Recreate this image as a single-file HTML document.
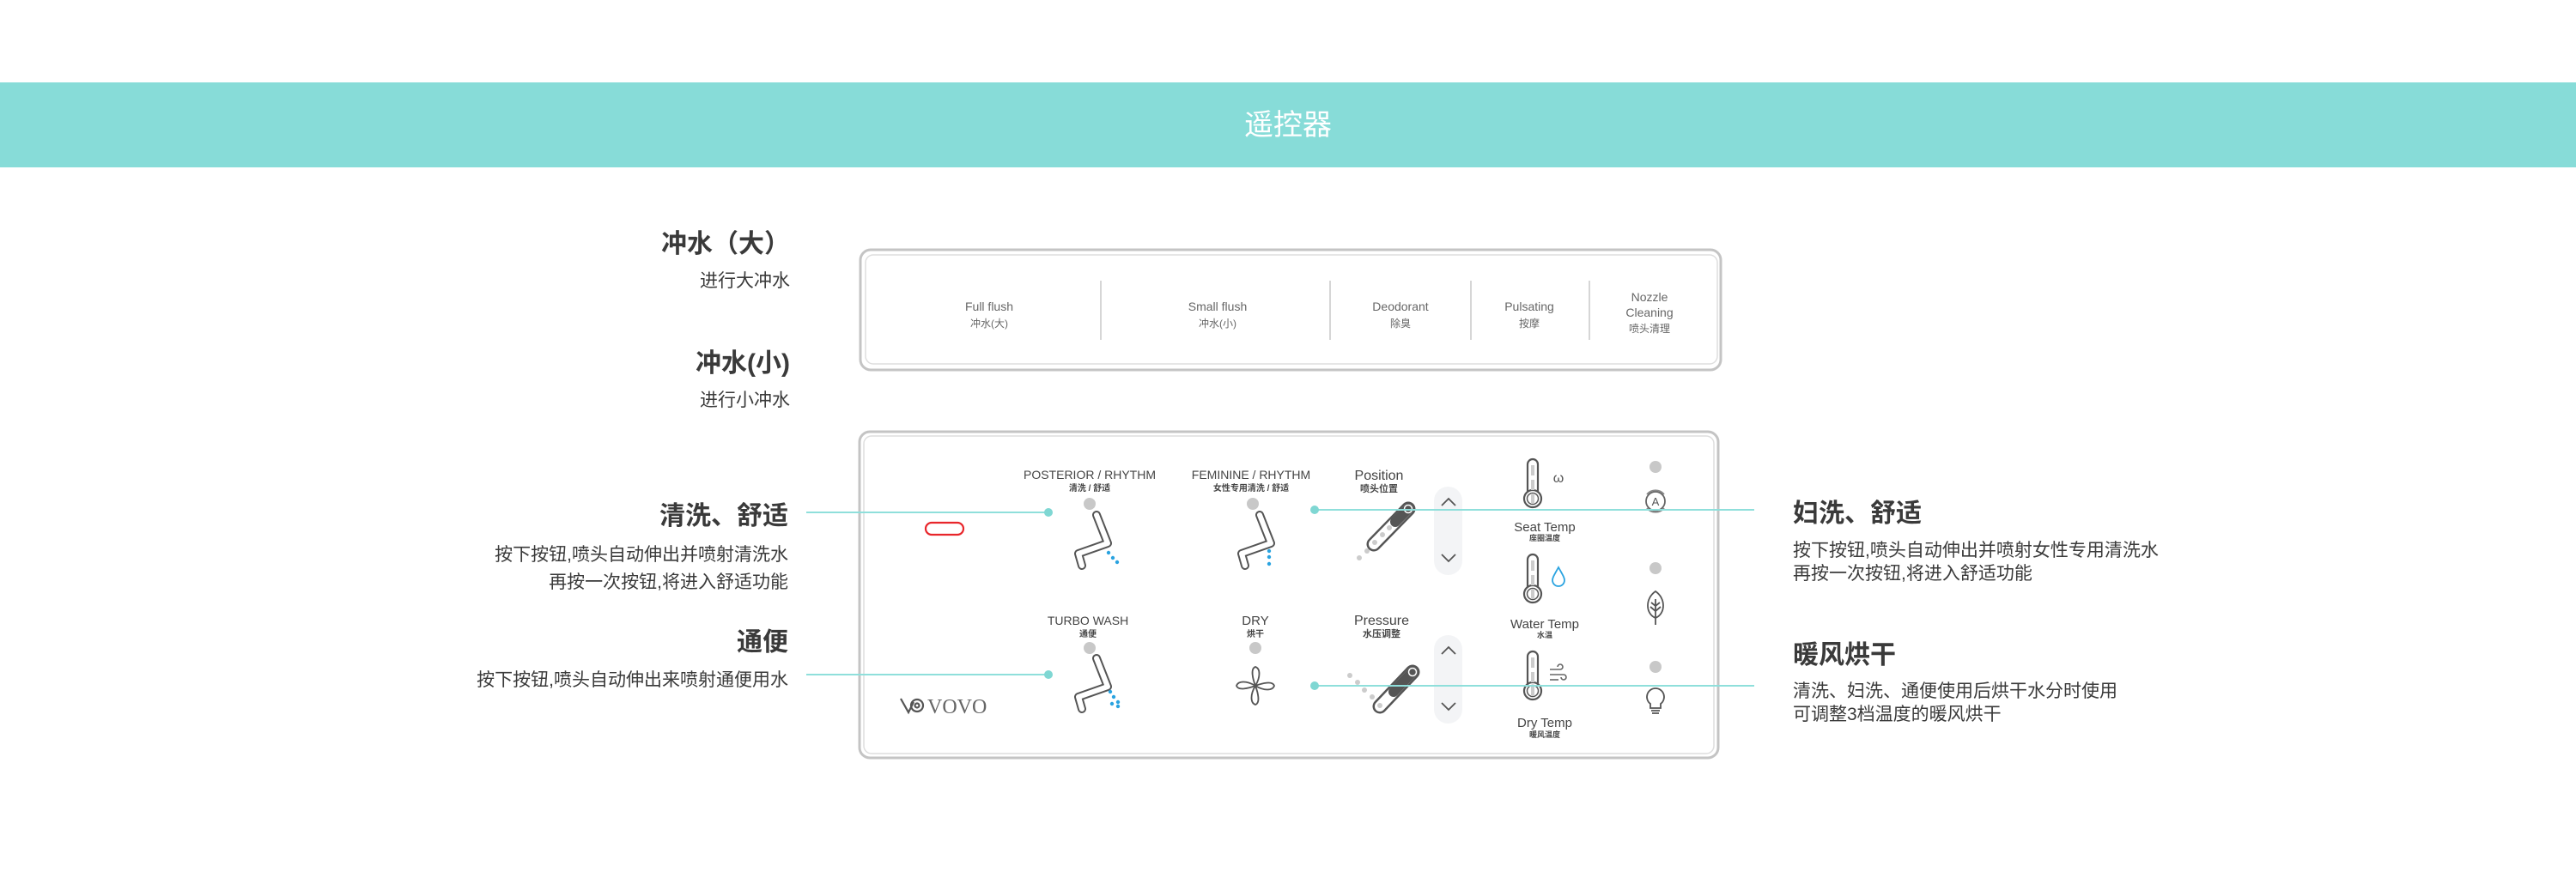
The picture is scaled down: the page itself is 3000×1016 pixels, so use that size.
<!DOCTYPE html>
<html><head><meta charset="utf-8"><style>
html,body{margin:0;padding:0;background:#fff;}
svg{display:block;}
text{font-family:"Liberation Sans","Noto Sans CJK SC",sans-serif;}
</style></head><body>
<svg width="3000" height="1016" viewBox="0 0 3000 1016" xmlns="http://www.w3.org/2000/svg">
<defs>
<g id="therm">
  <rect x="-6" y="0" width="12" height="46" rx="6" fill="#fff" stroke="#555" stroke-width="2.2"/>
  <circle cx="0" cy="46" r="10" fill="#fff" stroke="#555" stroke-width="2.2"/>
  <circle cx="0" cy="46" r="6.5" fill="none" stroke="#555" stroke-width="1.5"/>
  <rect x="-2" y="7" width="4" height="12" fill="#ccc"/>
  <rect x="-2" y="24" width="4" height="12" fill="#ccc"/>
  <rect x="-2" y="40" width="4" height="12" fill="#ccc"/>
</g>
<g id="nozzle">
  <polyline points="0,0 13,33 -21,45 -17,59" fill="none" stroke="#555" stroke-width="10" stroke-linejoin="round" stroke-linecap="round"/>
  <polyline points="0,0 13,33 -21,45 -17,59" fill="none" stroke="#fff" stroke-width="6" stroke-linejoin="round" stroke-linecap="round"/>
</g>
<g id="up"><polyline points="-8,4 0,-4 8,4" fill="none" stroke="#555" stroke-width="1.8"/></g>
<g id="down"><polyline points="-8,-4 0,4 8,-4" fill="none" stroke="#555" stroke-width="1.8"/></g>
</defs>

<rect x="0" y="96" width="3000" height="99" fill="#87dcd8"/>
<text x="1500" y="157" font-size="34" fill="#fff" text-anchor="middle">遥控器</text>

<g fill="#3a3a3a" text-anchor="end">
<text x="920" y="294" font-size="30" font-weight="bold">冲水（大）</text>
<text x="920" y="334" font-size="21">进行大冲水</text>
<text x="920" y="433" font-size="30" font-weight="bold">冲水(小)</text>
<text x="920" y="473" font-size="21">进行小冲水</text>
<text x="918" y="611" font-size="30" font-weight="bold">清洗、舒适</text>
<text x="918" y="653" font-size="21">按下按钮,喷头自动伸出并喷射清洗水</text>
<text x="918" y="685" font-size="21">再按一次按钮,将进入舒适功能</text>
<text x="918" y="758" font-size="30" font-weight="bold">通便</text>
<text x="918" y="799" font-size="21">按下按钮,喷头自动伸出来喷射通便用水</text>
</g>
<g fill="#3a3a3a">
<text x="2088" y="608" font-size="30" font-weight="bold">妇洗、舒适</text>
<text x="2088" y="648" font-size="21">按下按钮,喷头自动伸出并喷射女性专用清洗水</text>
<text x="2088" y="675" font-size="21">再按一次按钮,将进入舒适功能</text>
<text x="2088" y="773" font-size="30" font-weight="bold">暖风烘干</text>
<text x="2088" y="812" font-size="21">清洗、妇洗、通便使用后烘干水分时使用</text>
<text x="2088" y="839" font-size="21">可调整3档温度的暖风烘干</text>
</g>

<rect x="1002" y="291" width="1002" height="140" rx="12" fill="#fff" stroke="#c4c4c4" stroke-width="3"/>
<rect x="1008" y="297" width="992" height="127" rx="9" fill="none" stroke="#dedede" stroke-width="1.5"/>
<g stroke="#c8c8c8" stroke-width="1.5">
<line x1="1282" y1="327" x2="1282" y2="396"/>
<line x1="1549" y1="327" x2="1549" y2="396"/>
<line x1="1713" y1="327" x2="1713" y2="396"/>
<line x1="1851" y1="327" x2="1851" y2="396"/>
</g>
<g fill="#666" text-anchor="middle">
<text x="1152" y="362" font-size="14">Full flush</text><text x="1152" y="381" font-size="12">冲水(大)</text>
<text x="1418" y="362" font-size="14">Small flush</text><text x="1418" y="381" font-size="12">冲水(小)</text>
<text x="1631" y="362" font-size="14">Deodorant</text><text x="1631" y="381" font-size="12">除臭</text>
<text x="1781" y="362" font-size="14">Pulsating</text><text x="1781" y="381" font-size="12">按摩</text>
<text x="1921" y="351" font-size="14">Nozzle</text><text x="1921" y="369" font-size="14">Cleaning</text><text x="1921" y="387" font-size="12">喷头清理</text>
</g>

<rect x="1001" y="503" width="1000" height="380" rx="12" fill="#fff" stroke="#c4c4c4" stroke-width="3"/>
<rect x="1006" y="508" width="990" height="370" rx="9" fill="none" stroke="#dedede" stroke-width="1.5"/>

<rect x="1078" y="609" width="44" height="14" rx="7" fill="#fff" stroke="#e8262b" stroke-width="2.2"/>

<g fill="none" stroke="#555" stroke-width="2.2">
<polyline points="1049,814 1058,830 1064,818"/>
<circle cx="1068" cy="822" r="7"/>
<circle cx="1068" cy="822" r="2.5"/>
</g>
<text x="1080" y="831" font-size="24" fill="#666" style="font-family:'Liberation Serif',serif">VOVO</text>

<g fill="#444" text-anchor="middle">
<text x="1269" y="558" font-size="14">POSTERIOR / RHYTHM</text><text x="1269" y="572" font-size="10" font-weight="bold">清洗 / 舒适</text>
<text x="1457" y="558" font-size="14">FEMININE / RHYTHM</text><text x="1457" y="572" font-size="10" font-weight="bold">女性专用清洗 / 舒适</text>
<text x="1606" y="559" font-size="16">Position</text><text x="1606" y="573" font-size="11" font-weight="bold">喷头位置</text>
<text x="1799" y="619" font-size="15">Seat Temp</text><text x="1799" y="630" font-size="9" font-weight="bold">座圈温度</text>
<text x="1799" y="732" font-size="15">Water Temp</text><text x="1799" y="743" font-size="9" font-weight="bold">水温</text>
<text x="1799" y="847" font-size="15">Dry Temp</text><text x="1799" y="859" font-size="9" font-weight="bold">暖风温度</text>
<text x="1267" y="728" font-size="14">TURBO WASH</text><text x="1267" y="742" font-size="10" font-weight="bold">通便</text>
<text x="1462" y="728" font-size="15">DRY</text><text x="1462" y="742" font-size="10" font-weight="bold">烘干</text>
<text x="1609" y="728" font-size="16">Pressure</text><text x="1609" y="742" font-size="11" font-weight="bold">水压调整</text>
</g>

<g fill="#c8c8c8">
<circle cx="1269" cy="587" r="7"/><circle cx="1459" cy="587" r="7"/>
<circle cx="1269" cy="755" r="7"/><circle cx="1462" cy="755" r="7"/>
<circle cx="1928" cy="544" r="7"/><circle cx="1928" cy="662" r="7"/><circle cx="1928" cy="777" r="7"/>
</g>

<use href="#nozzle" transform="translate(1277,600)"/>
<g fill="#2aa3e0"><circle cx="1291" cy="644" r="2.2"/><circle cx="1296" cy="650" r="2.2"/><circle cx="1301" cy="655" r="2.2"/></g>
<use href="#nozzle" transform="translate(1467,600)"/>
<g fill="#2aa3e0"><circle cx="1478" cy="642" r="2.2"/><circle cx="1478" cy="649" r="2.2"/><circle cx="1478" cy="657" r="2.2"/></g>
<use href="#nozzle" transform="translate(1277,767)"/>
<g fill="#2aa3e0"><circle cx="1293" cy="806" r="2.2"/><circle cx="1297" cy="812" r="2.2"/><circle cx="1302" cy="818" r="2.2"/><circle cx="1295" cy="820" r="2.2"/><circle cx="1302" cy="823" r="2.2"/></g>

<line x1="1640" y1="593" x2="1600" y2="634" stroke="#555" stroke-width="17" stroke-linecap="round"/>
<line x1="1640" y1="593" x2="1600" y2="634" stroke="#fff" stroke-width="12" stroke-linecap="round"/>
<line x1="1640" y1="593" x2="1625" y2="608" stroke="#555" stroke-width="12" stroke-linecap="round"/>
<circle cx="1640" cy="593" r="4.5" fill="#555" stroke="#fff" stroke-width="1.5"/>
<g fill="#ccc"><circle cx="1618" cy="615" r="3"/><circle cx="1610" cy="623" r="3"/><circle cx="1601" cy="632" r="3"/><circle cx="1592" cy="642" r="3"/><circle cx="1583" cy="650" r="3"/></g>

<line x1="1645" y1="783" x2="1607" y2="823" stroke="#555" stroke-width="17" stroke-linecap="round"/>
<line x1="1645" y1="783" x2="1607" y2="823" stroke="#fff" stroke-width="12" stroke-linecap="round"/>
<line x1="1645" y1="783" x2="1623" y2="806" stroke="#555" stroke-width="12" stroke-linecap="round"/>
<circle cx="1645" cy="783" r="4.5" fill="#555" stroke="#fff" stroke-width="1.5"/>
<g fill="#ccc"><circle cx="1572" cy="787" r="3"/><circle cx="1581" cy="795" r="3"/><circle cx="1589" cy="804" r="3"/><circle cx="1598" cy="812" r="3"/><circle cx="1607" cy="822" r="3"/></g>

<rect x="1670" y="567" width="33" height="103" rx="16.5" fill="#f3f4f6"/>
<rect x="1670" y="740" width="33" height="103" rx="16.5" fill="#f3f4f6"/>
<use href="#up" transform="translate(1687,585)"/><use href="#down" transform="translate(1687,650)"/>
<use href="#up" transform="translate(1687,758)"/><use href="#down" transform="translate(1687,823)"/>

<use href="#therm" transform="translate(1785,535)"/>
<use href="#therm" transform="translate(1785,646)"/>
<use href="#therm" transform="translate(1785,759)"/>
<text x="1815" y="562" font-size="16" fill="#555" text-anchor="middle">ω</text>
<path d="M1815 661 C1810 670 1808 673 1808 676 a7 7 0 0 0 14 0 C1822 673 1820 670 1815 661Z" fill="none" stroke="#2aa3e0" stroke-width="1.8"/>
<g fill="none" stroke="#666" stroke-width="1.6">
<path d="M1805 780 h12 a3 3 0 1 0 -3 -3"/><path d="M1805 786 h16 a3 3 0 1 1 -3 3"/><path d="M1805 792 h10"/>
</g>

<g fill="none" stroke="#555" stroke-width="1.8" transform="translate(1462,799)">
<path d="M0 0 C-3 -8 -6 -20 0 -22 C6 -20 6 -10 0 0Z"/>
<path d="M0 0 C8 -3 20 -6 22 0 C20 6 10 6 0 0Z"/>
<path d="M0 0 C3 8 6 20 0 22 C-6 20 -6 10 0 0Z"/>
<path d="M0 0 C-8 3 -20 6 -22 0 C-20 -6 -10 -6 0 0Z"/>
</g>

<g fill="none" stroke="#888" stroke-width="1.8">
<path d="M1918 576 A13 13 0 0 1 1938 576"/><path d="M1938 592 A13 13 0 0 1 1918 592"/>
<circle cx="1928" cy="584" r="11" stroke="#666"/>
</g>
<text x="1928" y="589" font-size="13" fill="#555" text-anchor="middle">A</text>
<g fill="none" stroke="#555" stroke-width="1.8">
<path d="M1928 689 C1916 697 1916 715 1928 720 C1940 715 1940 697 1928 689Z"/>
<path d="M1928 698 V728 M1928 706 l-5 -4 M1928 706 l5 -4 M1928 712 l-6 -5 M1928 712 l6 -5"/>
<path d="M1928 802 a10 10 0 0 0 -6 18 v5 h12 v-5 a10 10 0 0 0 -6 -18Z"/>
<path d="M1923 828 h10 M1924 831 h8"/>
</g>

<g stroke="#8fdfdb" stroke-width="2">
<line x1="939" y1="597" x2="1221" y2="597"/>
<line x1="939" y1="786" x2="1221" y2="786"/>
<line x1="1531" y1="594" x2="2043" y2="594"/>
<line x1="1531" y1="799" x2="2043" y2="799"/>
</g>
<g fill="#7fd7d3">
<circle cx="1221" cy="597" r="5"/><circle cx="1221" cy="786" r="5"/>
<circle cx="1531" cy="594" r="5"/><circle cx="1531" cy="799" r="5"/>
</g>
</svg>
</body></html>
